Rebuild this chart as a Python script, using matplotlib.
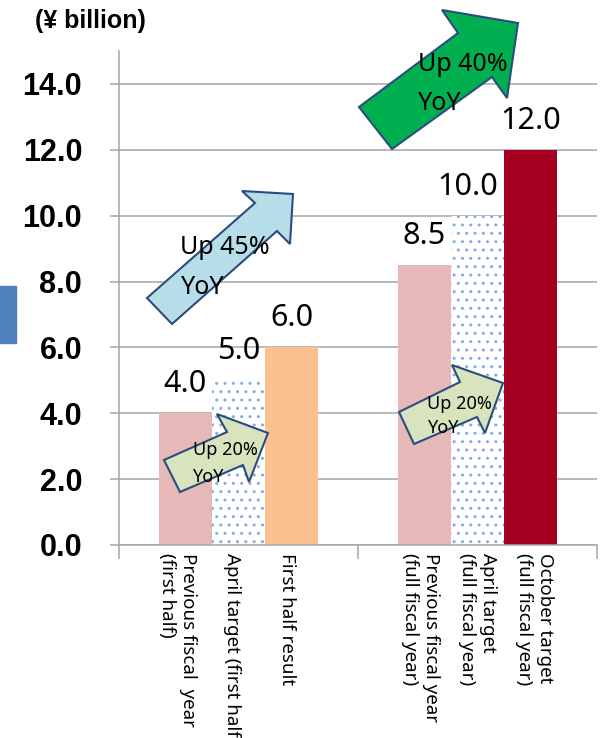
import matplotlib
matplotlib.use("Agg")
import matplotlib.pyplot as plt
from matplotlib.patches import Polygon, Rectangle

# ---------------- data ----------------
groups = ["First half", "Full fiscal year"]
prev_year = [4.0, 8.5]
april_target = [5.0, 10.0]
latest = [6.0, 12.0]
bar_labels = [
    "Previous fiscal  year\n(first half)",
    "April target (first half)",
    "First half result",
    "Previous fiscal year\n(full fiscal year)",
    "April target\n(full fiscal year)",
    "October target\n(full fiscal year)",
]
y_ticks = [0.0, 2.0, 4.0, 6.0, 8.0, 10.0, 12.0, 14.0]
unit_label = "(¥ billion)"
arrow_notes = [("Up 45%", "YoY"), ("Up 40%", "YoY"), ("Up 20%", "YoY"), ("Up 20%", "YoY")]

# ---------------- figure ----------------
W, H = 606, 738
fig = plt.figure(figsize=(W / 100, H / 100), dpi=100)
fig.patch.set_facecolor("white")

def fx(x):
    return x / W

def fy(y):
    return 1 - y / H

ax = fig.add_axes([fx(119), fy(545), (597 - 119) / W, (545 - 51) / H])

bw = 53 / 239
centers = [0, 1]
series = [prev_year, april_target, latest]
colors = [["#E6B9B8", "#E6B9B8"], ["white", "white"], ["#FAC090", "#A50021"]]
xs_all = []
for si, vals in enumerate(series):
    xs = [c + (si - 1) * bw for c in centers]
    if si == 1:
        ax.bar(xs, vals, width=bw, color="white", edgecolor="#7FAEE6",
               linewidth=0, hatch="..", zorder=2)
    else:
        ax.bar(xs, vals, width=bw, color=colors[si], linewidth=0, zorder=2)
    for x, v in zip(xs, vals):
        xs_all.append((x, v))

order = sorted(xs_all, key=lambda t: t[0])
value_dx = [0, 0, 0, 0, -10, 0]
for (x, v), dx in zip(order, value_dx):
    ax.annotate(f"{v:.1f}", (x, v), xytext=(dx, 21), textcoords="offset pixels",
                ha="center", va="baseline", fontsize=22, family="Noto Sans",
                color="black", zorder=6)

ax.set_xlim(-0.5, 1.5)
ax.set_ylim(0, 15)
ax.set_yticks(y_ticks)
ax.set_yticklabels([f"{t:.1f}" for t in y_ticks], family="Liberation Sans",
                   fontweight="bold", fontsize=22)
ax.set_xticks([-0.5, 0.5, 1.5])
ax.set_xticklabels([])
gc = "#A6A6A6"
ax.tick_params(axis="y", direction="out", length=6.5, width=1.1, color=gc, pad=20)
ax.tick_params(axis="x", direction="out", length=10, width=1.1, color=gc)
ax.yaxis.grid(True, color=gc, linewidth=1.1, zorder=0)
ax.set_axisbelow(True)
for s in ["top", "right"]:
    ax.spines[s].set_visible(False)
for s in ["left", "bottom"]:
    ax.spines[s].set_color(gc)
    ax.spines[s].set_linewidth(1.1)

label_dx = [-8, -7, -5, -4, 0, 4]
for (x, v), lab, dx in zip(order, bar_labels, label_dx):
    ax.annotate(lab, (x, 0), xycoords=("data", "axes fraction"),
                xytext=(dx, -8), textcoords="offset pixels",
                rotation=-90, ha="center", va="top", multialignment="left",
                fontsize=13.5, linespacing=1.25, family="Noto Sans", color="black",
                annotation_clip=False)

fig.text(fx(90), fy(21), unit_label, ha="center", va="center",
         fontsize=18, fontweight="bold", family="Liberation Sans")

fig.patches.append(Rectangle((fx(0), fy(343)), 16 / W, (343 - 286) / H,
                             transform=fig.transFigure, color="#4F81BD",
                             figure=fig))

edge = "#2B4C7E"
arrows = [
    ([(147, 298), (255, 203), (242, 191), (293, 194), (290, 244), (277, 231), (172, 324)],
     "#B7DEE8", (180, 254), (181, 294), 18),
    ([(359, 107), (458, 33), (442, 10), (518, 23), (507, 98), (492, 77), (392, 149)],
     "#00B050", (418, 71), (418, 110), 18),
    ([(164, 460), (227, 432), (217, 414), (268, 433), (249, 482), (243, 465), (180, 492)],
     "#D7E4BD", (193, 455), (192, 482), 13),
    ([(399, 412), (460, 382), (452, 365), (503, 383), (485, 433), (477, 417), (414, 444)],
     "#D7E4BD", (427, 409), (427, 433), 13),
]
for (pts, fc, p1, p2, fs), (t1, t2) in zip(arrows, arrow_notes):
    poly = Polygon([(fx(a), fy(b)) for a, b in pts], closed=True,
                   transform=fig.transFigure, facecolor=fc, edgecolor=edge,
                   linewidth=1.5, zorder=8, figure=fig)
    fig.patches.append(poly)
    fig.text(fx(p1[0]), fy(p1[1]), t1, ha="left", va="baseline", fontsize=fs,
             family="Noto Sans", color="black", zorder=9)
    fig.text(fx(p2[0]), fy(p2[1]), t2, ha="left", va="baseline", fontsize=fs,
             family="Noto Sans", color="black", zorder=9)

fig.savefig("out.png", dpi=100)
